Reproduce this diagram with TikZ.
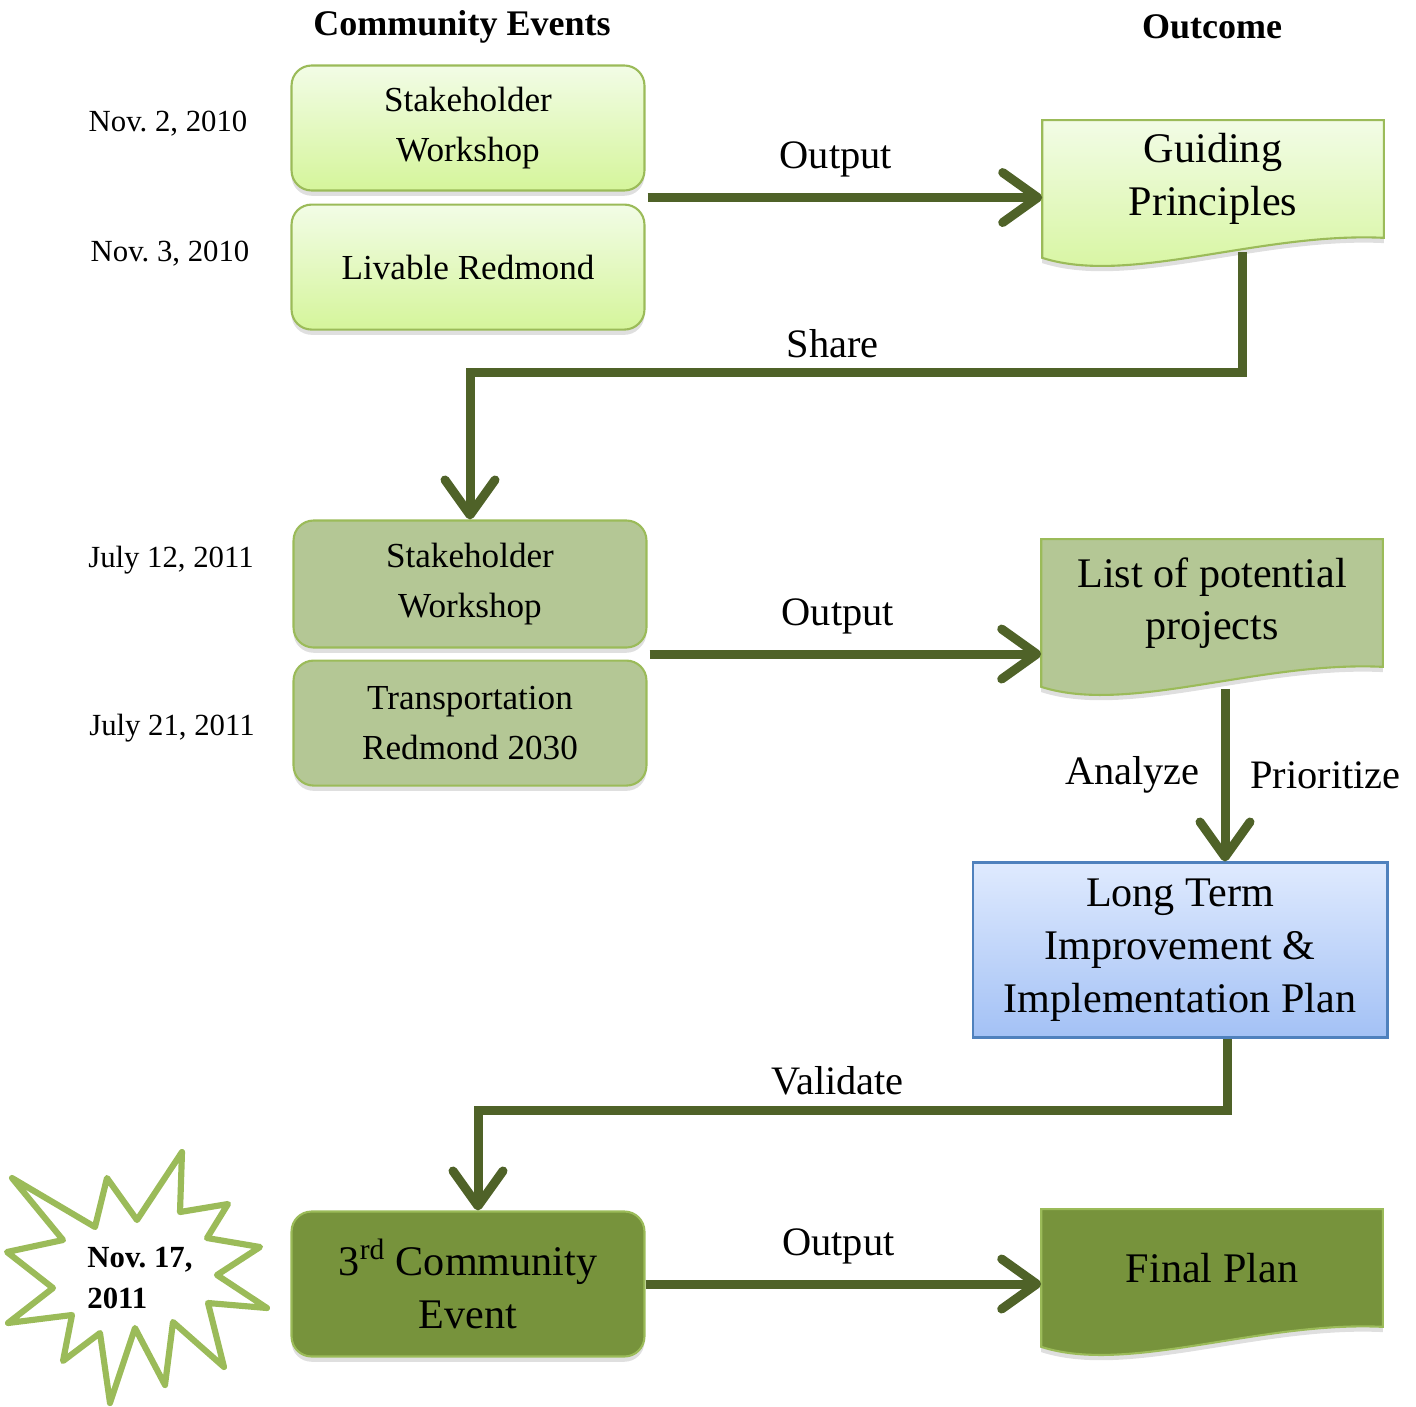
\documentclass[tikz,border=0pt]{standalone}
\usepackage{fontspec}
\setmainfont{Liberation Serif}
\usetikzlibrary{arrows.meta}
\usetikzlibrary{calc}
\usetikzlibrary{positioning}
\usetikzlibrary{shadows}
\usetikzlibrary{backgrounds}
\definecolor{paletop}{HTML}{F2FCE6}
\definecolor{palebot}{HTML}{D5F59B}
\definecolor{sagegreen}{HTML}{B4C795}
\definecolor{mossgreen}{HTML}{77933C}
\definecolor{rimgreen}{HTML}{9BBB59}
\definecolor{flowgreen}{HTML}{4F6228}
\definecolor{skytop}{HTML}{DFEAFE}
\definecolor{skybot}{HTML}{A3C1F5}
\definecolor{rimblue}{HTML}{4F81BD}
\frenchspacing
\begin{document}
\begin{tikzpicture}[x=0.02cm,y=-0.02cm,
  softshadow/.style={drop shadow={shadow xshift=0pt,shadow yshift=-3pt,opacity=0.25}},
  event/.style={rounded corners=0.4cm,draw=rimgreen,line width=1.2pt,minimum width=7.06cm,minimum height=2.5cm,align=center,font=\fontsize{20}{28}\selectfont,softshadow},
  pale/.style={top color=paletop,bottom color=palebot},
  sage/.style={fill=sagegreen},
  moss/.style={fill=mossgreen},
  outcome/.style={minimum width=6.82cm,minimum height=2.34cm,align=center,font=\fontsize{24}{30}\selectfont},
  date/.style={font=\fontsize{17.5}{21}\selectfont},
  head/.style={font=\fontsize{20.5}{24}\selectfont\bfseries},
  lbl/.style={font=\fontsize{23}{26}\selectfont},
  flow/.style={draw=flowgreen,line width=0.18cm,-{Straight Barb[length=0.7cm,width=1.0cm,line width=0pt 1,round]}}]
\useasboundingbox (0,0) rectangle (1416,1406);

\node[head] (hevents) at (462,27) {Community Events};
\node[head] (houtcome) at (1212,27) {Outcome};

% community events
\node[event,pale] (sw1) at (468,128) {Stakeholder\\Workshop};
\node[event,pale,below=0.24cm of sw1] (lr) {Livable Redmond};
\node[event,sage,minimum height=2.54cm] (sw2) at (470,584) {Stakeholder\\Workshop};
\node[event,sage,below=0.22cm of sw2] (tr) {Transportation\\Redmond 2030};
\node[event,moss,minimum height=2.9cm,font=\fontsize{24}{30}\selectfont] (ce) at (468,1284) {3\textsuperscript{rd} Community\\Event};

\node[date] (d1) at (168,124) {Nov. 2, 2010};
\node[date] (d2) at (170,254) {Nov. 3, 2010};
\node[date] (d3) at (171,560) {July 12, 2011};
\node[date] (d4) at (172,728) {July 21, 2011};
\node[font=\fontsize{17.5}{23}\selectfont\bfseries,align=left] (d5) at (140,1278) {Nov. 17,\\2011};

% outcomes
\node[outcome] (gp) at (1213,179) {Guiding\\Principles};
\node[outcome,minimum height=2.54cm] (lp) at (1212,603) {List of potential\\projects};
\node[outcome] (fp) at (1212,1268) {Final Plan};
\node[outcome,draw=rimblue,line width=1.2pt,top color=skytop,bottom color=skybot,minimum width=8.3cm,minimum height=3.5cm] (lt) at (1180,950) {Long Term\\Improvement \&\\Implementation Plan};

\begin{scope}[on background layer]
\foreach \n/\s in {gp/pale,lp/sage,fp/moss}
  \filldraw[\s,draw=rimgreen,line width=1.2pt,softshadow] (\n.north west) -- (\n.north east) -- (\n.south east)
    .. controls +(-124,-6) and +(87,28) .. ($(\n.south west)+(0,20)$) -- cycle;
\filldraw[fill=white,draw=rimgreen,line width=3.5pt,line join=round] (182,1152) -- (180,1212) -- (228,1204) -- (207,1238) -- (260,1247)
  -- (217,1275) -- (267,1308) -- (208,1303) -- (224,1367) -- (173,1322) -- (165,1385) -- (135,1328) -- (110,1403)
  -- (100,1333) -- (63,1361) -- (72,1315) -- (8,1323) -- (53,1288) -- (7,1252) -- (63,1240) -- (12,1178)
  -- (95,1227) -- (107,1178) -- (137,1220) -- cycle;
\end{scope}

% connectors
\coordinate (o1) at ($(sw1.south east)!0.5!(lr.north east)+(2,0)$);
\coordinate (o2) at ($(sw2.south east)!0.5!(tr.north east)+(2,0)$);
\draw[flow] (o1) -- node[lbl,above=0.2cm,xshift=-0.18cm] {Output} (o1 -| gp.west);
\draw[flow] (o2) -- node[lbl,above=0.2cm,xshift=-0.15cm] {Output} (o2 -| lp.west);
\draw[flow] (ce.east) -- node[lbl,above=0.2cm,xshift=-0.1cm] {Output} (ce.east -| fp.west);
\draw[flow] ($(gp.south)+(29,14)$) -- ++(0,121) -| node[lbl,pos=0.265,above=0.1cm] {Share} (sw2.north);
\draw[flow] ($(lp.south)+(13,22)$) coordinate (a0) -- node[lbl,left=0.3cm] {Analyze} node[lbl,right=0.3cm] {Prioritize} (a0 |- lt.north);
\draw[flow] ($(lt.south)+(47,0)$) -- ++(0,72) -| node[lbl,pos=0.26,above=0.1cm] {Validate} ($(ce.north)+(10,0)$);
\end{tikzpicture}
\end{document}
